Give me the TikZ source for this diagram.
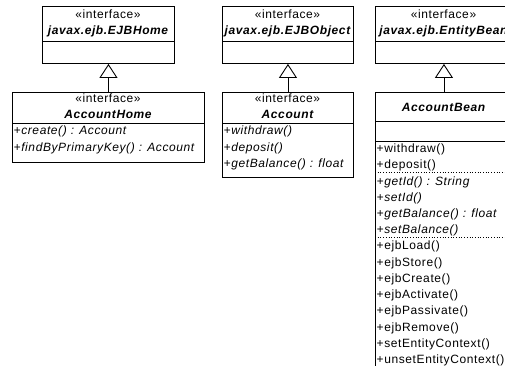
\documentclass[tikz,border=0pt]{standalone}
\usepackage{fontspec}
\setmainfont{Liberation Sans}[LetterSpace=5]
\usetikzlibrary{arrows.meta}
\begin{document}
\begin{tikzpicture}[x=1pt,y=-1pt,
  box/.style={draw, line width=0.9pt, inner sep=0pt, anchor=north west},
  stereo/.style={inner sep=0pt, anchor=base, font=\fontsize{12}{14}\selectfont},
  cname/.style={inner sep=0pt, anchor=base, font=\fontsize{12}{14}\selectfont\bfseries\itshape},
  opi/.style={inner sep=0pt, anchor=base west, font=\fontsize{12}{14}\selectfont\itshape},
  opr/.style={inner sep=0pt, anchor=base west, font=\fontsize{12}{14}\selectfont},
  sep/.style={line width=0.9pt},
  dsep/.style={line width=0.7pt, dotted},
  gen/.style={line width=0.9pt, -{Triangle[open, length=14pt, width=18pt, line width=0.9pt]}}
]
\useasboundingbox (0,0) rectangle (505,365);
\clip (0,0) rectangle (505,365);

% ---------- parent interfaces ----------
\node[box, minimum width=132pt, minimum height=57pt] (B1) at (42,6) {};
\node[stereo] (B1s) at (108,18.5) {«interface»};
\node[cname] (B1n) at (108,34.5) {javax.ejb.EJBHome};
\draw[sep] ([yshift=-35pt]B1.north west) -- ([yshift=-35pt]B1.north east);

\node[box, minimum width=131pt, minimum height=57pt] (B2) at (222,6) {};
\node[stereo] (B2s) at (287.5,18.5) {«interface»};
\node[cname] (B2n) at (287.5,34.5) {javax.ejb.EJBObject};
\draw[sep] ([yshift=-35pt]B2.north west) -- ([yshift=-35pt]B2.north east);

\node[box, minimum width=137pt, minimum height=57pt] (B3) at (375,6) {};
\node[stereo] (B3s) at (443.5,18.5) {«interface»};
\node[cname] (B3n) at (443.5,34.5) {javax.ejb.EntityBean};
\draw[sep] ([yshift=-35pt]B3.north west) -- ([yshift=-35pt]B3.north east);

% ---------- AccountHome ----------
\node[box, minimum width=192pt, minimum height=70pt] (C1) at (12,92) {};
\node[stereo] (C1s) at (108,102.5) {«interface»};
\node[cname] (C1n) at (108,118.5) {AccountHome};
\draw[sep] ([yshift=-31pt]C1.north west) -- ([yshift=-31pt]C1.north east);
\node[opi] (C1a) at (13.5,134.5) {+create() : Account};
\node[opi] (C1b) at (13.5,151) {+findByPrimaryKey() : Account};

% ---------- Account ----------
\node[box, minimum width=131pt, minimum height=85pt] (C2) at (222,92) {};
\node[stereo] (C2s) at (287.5,102.5) {«interface»};
\node[cname] (C2n) at (287.5,118.5) {Account};
\draw[sep] ([yshift=-31pt]C2.north west) -- ([yshift=-31pt]C2.north east);
\node[opi] (C2a) at (223.5,134.5) {+withdraw()};
\node[opi] (C2b) at (223.5,151) {+deposit()};
\node[opi] (C2c) at (223.5,167.5) {+getBalance() : float};

% ---------- AccountBean ----------
\node[box, minimum width=137pt, minimum height=290pt] (C3) at (375,92) {};
\node[cname] (C3n) at (443.5,111.5) {AccountBean};
\draw[sep] ([yshift=-29pt]C3.north west) -- ([yshift=-29pt]C3.north east);
\draw[sep] ([yshift=-49pt]C3.north west) -- ([yshift=-49pt]C3.north east);
\node[opr] (m1) at (376.5,152.5) {+withdraw()};
\node[opr] (m2) at (376.5,168.7) {+deposit()};
\draw[dsep] ([yshift=-80.5pt]C3.north west) -- ([yshift=-80.5pt]C3.north east);
\node[opi] (m3) at (376.5,185) {+getId() : String};
\node[opi] (m4) at (376.5,201.2) {+setId()};
\node[opi] (m5) at (376.5,217.4) {+getBalance() : float};
\node[opi] (m6) at (376.5,233.7) {+setBalance()};
\draw[dsep] ([yshift=-145.5pt]C3.north west) -- ([yshift=-145.5pt]C3.north east);
\node[opr] (m7) at (376.5,249.9) {+ejbLoad()};
\node[opr] (m8) at (376.5,266.1) {+ejbStore()};
\node[opr] (m9) at (376.5,282.3) {+ejbCreate()};
\node[opr] (m10) at (376.5,298.6) {+ejbActivate()};
\node[opr] (m11) at (376.5,314.8) {+ejbPassivate()};
\node[opr] (m12) at (376.5,331) {+ejbRemove()};
\node[opr] (m13) at (376.5,347.3) {+setEntityContext()};
\node[opr] (m14) at (376.5,363.5) {+unsetEntityContext()};

% ---------- generalizations ----------
\draw[gen] (C1.north) -- (B1.south);
\draw[gen] (C2.north) -- (B2.south);
\draw[gen] (C3.north) -- (B3.south);
\end{tikzpicture}
\end{document}
